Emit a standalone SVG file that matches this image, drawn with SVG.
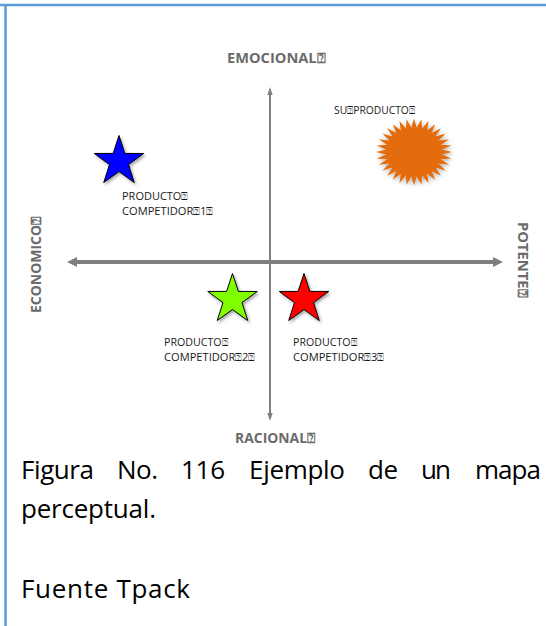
<svg xmlns="http://www.w3.org/2000/svg" xmlns:xlink="http://www.w3.org/1999/xlink" width="546" height="626" viewBox="0 0 546 626">
<style>
.axl{font-family:"Open Sans","Liberation Sans",sans-serif;font-weight:bold;font-size:14px;fill:#6b6b6b}
.lbl{font-family:"Open Sans","Liberation Sans",sans-serif;font-size:10px;fill:#1a1a1a}
.cap{font-family:"Open Sans","Liberation Sans",sans-serif;font-size:26px;fill:#000}
.axis{stroke:#7f7f7f;fill:none}
.head{fill:#7f7f7f}
.star{stroke:#000;stroke-width:1;stroke-linejoin:miter}
</style>
<defs>
<filter id="sh" x="-30%" y="-30%" width="160%" height="160%">
<feDropShadow dx="1.5" dy="2" stdDeviation="1.5" flood-color="#000" flood-opacity="0.35"/>
</filter>
<filter id="glow" x="-30%" y="-30%" width="160%" height="160%">
<feDropShadow dx="1" dy="2" stdDeviation="2" flood-color="#000" flood-opacity="0.3"/>
</filter>
<path id="star5" d="M0,-26 L5.88,-8.09 L24.73,-8.03 L9.51,3.09 L15.28,21.03 L0,10 L-15.28,21.03 L-9.51,3.09 L-24.73,-8.03 L-5.88,-8.09 Z"/>
<polygon id="spike" points="-2.8,-27.6 0,-38 2.8,-27.6"/>
<g id="spk8">
<use xlink:href="#spike"/>
<use xlink:href="#spike" transform="rotate(11.25)"/>
<use xlink:href="#spike" transform="rotate(22.5)"/>
<use xlink:href="#spike" transform="rotate(33.75)"/>
<use xlink:href="#spike" transform="rotate(45)"/>
<use xlink:href="#spike" transform="rotate(56.25)"/>
<use xlink:href="#spike" transform="rotate(67.5)"/>
<use xlink:href="#spike" transform="rotate(78.75)"/>
</g>
</defs>
<rect x="0" y="0" width="546" height="626" fill="#fff"/>
<g id="frame">
<line x1="0" y1="5" x2="546" y2="5" stroke="#5b9bd5" stroke-width="2.5"/>
<line x1="5.5" y1="5" x2="5.5" y2="626" stroke="#5b9bd5" stroke-width="2.5"/>
</g>
<g id="connectors">
<line class="axis" x1="270" y1="92" x2="270" y2="416" stroke-width="2"/>
<polygon class="head" points="270,87 267.3,95 272.7,95"/>
<polygon class="head" points="270,421 267.3,413 272.7,413"/>
<line class="axis" x1="75" y1="262" x2="495" y2="262" stroke-width="4"/>
<polygon class="head" points="67,262 77,257 77,267"/>
<polygon class="head" points="503,262 493,257 493,267"/>
</g>
<g id="axis-labels">
<text class="axl" x="227" y="63" textLength="98" lengthAdjust="spacingAndGlyphs">EMOCIONAL⍰</text>
<text class="axl" x="235" y="443" textLength="80" lengthAdjust="spacingAndGlyphs">RACIONAL⍰</text>
<text class="axl" transform="translate(41,313) rotate(-90)" x="0" y="0" textLength="96" lengthAdjust="spacingAndGlyphs">ECONOMICO⍰</text>
<text class="axl" transform="translate(518,222) rotate(90)" x="0" y="0" textLength="75" lengthAdjust="spacingAndGlyphs">POTENTE⍰</text>
</g>
<g id="su-producto">
<g filter="url(#glow)" fill="#e46c0a" transform="translate(414,152) scale(1,0.88)">
<circle cx="0" cy="0" r="28.2"/>
<use xlink:href="#spk8"/>
<use xlink:href="#spk8" transform="rotate(90)"/>
<use xlink:href="#spk8" transform="rotate(180)"/>
<use xlink:href="#spk8" transform="rotate(270)"/>
</g>
<text class="lbl" x="334" y="114" textLength="81" lengthAdjust="spacingAndGlyphs">SU⍰PRODUCTO⍰</text>
</g>
<g id="competidor-1">
<use xlink:href="#star5" class="star" fill="#0000ff" filter="url(#sh)" transform="translate(119,161.5)"/>
<text class="lbl" x="122" y="200" textLength="66" lengthAdjust="spacingAndGlyphs">PRODUCTO⍰</text>
<text class="lbl" x="122" y="215" textLength="91" lengthAdjust="spacingAndGlyphs">COMPETIDOR⍰1⍰</text>
</g>
<g id="competidor-2">
<use xlink:href="#star5" class="star" fill="#80ff00" filter="url(#sh)" transform="translate(232.5,299.5)"/>
<text class="lbl" x="164" y="346" textLength="64" lengthAdjust="spacingAndGlyphs">PRODUCTO⍰</text>
<text class="lbl" x="164" y="361" textLength="91" lengthAdjust="spacingAndGlyphs">COMPETIDOR⍰2⍰</text>
</g>
<g id="competidor-3">
<use xlink:href="#star5" class="star" fill="#ff0000" filter="url(#sh)" transform="translate(304,299.5)"/>
<text class="lbl" x="293" y="346" textLength="64" lengthAdjust="spacingAndGlyphs">PRODUCTO⍰</text>
<text class="lbl" x="293" y="361" textLength="91" lengthAdjust="spacingAndGlyphs">COMPETIDOR⍰3⍰</text>
</g>
<g id="caption">
<text class="cap" y="479"><tspan x="21" textLength="73">Figura</tspan><tspan x="117" textLength="41">No.</tspan><tspan x="181" textLength="44">116</tspan><tspan x="249" textLength="96">Ejemplo</tspan><tspan x="368" textLength="30">de</tspan><tspan x="421" textLength="30">un</tspan><tspan x="475" textLength="66">mapa</tspan></text>
<text class="cap" x="21" y="518" textLength="135">perceptual.</text>
<text class="cap" x="21" y="598" textLength="169">Fuente Tpack</text>
</g>
</svg>
